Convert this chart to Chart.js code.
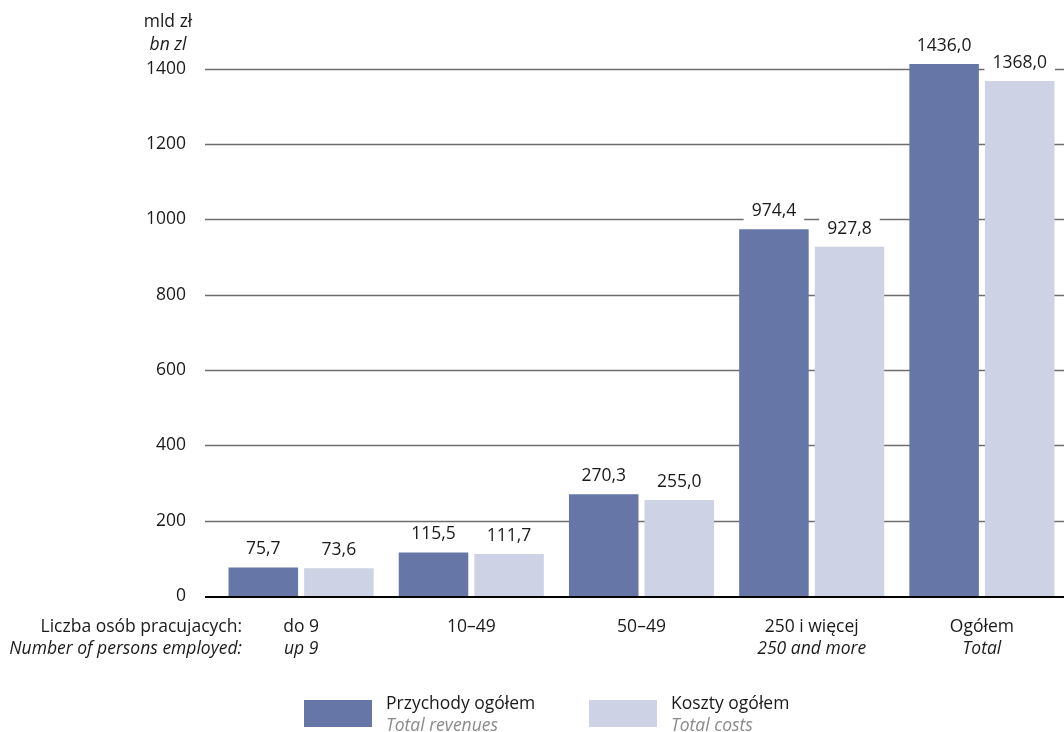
<!DOCTYPE html>
<html lang="pl">
<head>
<meta charset="utf-8">
<title>Przychody i koszty</title>
<script src="https://cdn.jsdelivr.net/npm/chart.js@4"></script>
<style>
    html, body { margin: 0; padding: 0; background: #fff; overflow: hidden; }
    #wrap { position: relative; width: 1067px; height: 732px; }
</style>
</head>
<body>
<div id="wrap"><canvas id="chart"></canvas></div>
<script>
// Dane
var categories = ['do 9', '10–49', '50–49', '250 i więcej', 'Ogółem'];
var categoriesEn = ['up 9', '', '', '250 and more', 'Total'];
var revenues = [75.7, 115.5, 270.3, 974.4, 1436.0];
var costs = [73.6, 111.7, 255.0, 927.8, 1368.0];
var yTicks = [0, 200, 400, 600, 800, 1000, 1200, 1400];
var seriesNames = ['Przychody ogółem', 'Koszty ogółem'];
var seriesNamesEn = ['Total revenues', 'Total costs'];
var unitLabel = ['mld zł', 'bn zl'];
var axisCaption = ['Liczba osób pracujacych:', 'Number of persons employed:'];

var FONT = '"Open Sans", "Liberation Sans", sans-serif';
var SIZE = 17.5;
var colRev = '#6576a7';
var colCost = '#cdd3e5';
var txt = '#1a1a1a';

function fmt(v) {
    return v.toFixed(1).replace('.', ',');
}

function font(size, italic) {
    return (italic ? 'italic ' : '') + size + 'px ' + FONT;
}

// Etykiety, siatka, legenda
var extras = {
    id: 'extras',
    beforeDatasetsDraw: function (chart) {
        var ctx = chart.ctx, area = chart.chartArea, y = chart.scales.y;
        ctx.save();
        // linie siatki
        ctx.strokeStyle = '#6e6e6e';
        ctx.lineWidth = 1.3;
        yTicks.forEach(function (v) {
            if (v === 0) return;
            var py = Math.round(y.getPixelForValue(v)) + 0.5;
            ctx.beginPath();
            ctx.moveTo(area.left - 11, py);
            ctx.lineTo(area.right, py);
            ctx.stroke();
        });
        // białe tło pod wartościami
        ctx.font = font(SIZE);
        ctx.fillStyle = '#fff';
        chart.data.datasets.forEach(function (ds, i) {
            chart.getDatasetMeta(i).data.forEach(function (bar, j) {
                var top = Math.max(bar.y, area.top);
                var w = ctx.measureText(fmt(ds.data[j])).width + 16;
                ctx.fillRect(bar.x - w / 2, top - 29, w, 22);
            });
        });
        ctx.restore();
    },
    afterDatasetsDraw: function (chart) {
        var ctx = chart.ctx, area = chart.chartArea, x = chart.scales.x, y = chart.scales.y;
        ctx.save();
        // oś zero
        ctx.strokeStyle = '#000';
        ctx.lineWidth = 2;
        var y0 = y.getPixelForValue(0) + 1;
        ctx.beginPath();
        ctx.moveTo(area.left - 11, y0);
        ctx.lineTo(area.right, y0);
        ctx.stroke();

        ctx.textBaseline = 'middle';
        ctx.textAlign = 'center';
        ctx.fillStyle = txt;
        ctx.font = font(SIZE);
        // wartości nad słupkami
        chart.data.datasets.forEach(function (ds, i) {
            chart.getDatasetMeta(i).data.forEach(function (bar, j) {
                var top = Math.max(bar.y, area.top);
                ctx.fillText(fmt(ds.data[j]), bar.x, top - 18);
            });
        });

        // kategorie
        categories.forEach(function (c, i) {
            var px = x.getPixelForValue(i);
            ctx.font = font(SIZE);
            ctx.fillText(c, px, 627);
            if (categoriesEn[i]) {
                ctx.font = font(SIZE, true);
                ctx.fillText(categoriesEn[i], px, 649);
            }
        });

        // jednostka
        ctx.font = font(SIZE);
        ctx.fillText(unitLabel[0], 168, 22);
        ctx.font = font(SIZE, true);
        ctx.fillText(unitLabel[1], 168, 45);

        // podpis osi
        ctx.textAlign = 'right';
        ctx.font = font(SIZE);
        ctx.fillText(axisCaption[0], 242, 627);
        ctx.font = font(SIZE, true);
        ctx.fillText(axisCaption[1], 242, 649);

        // legenda
        var legendX = [304, 589];
        var legendCol = [colRev, colCost];
        ctx.textAlign = 'left';
        seriesNames.forEach(function (name, i) {
            ctx.fillStyle = legendCol[i];
            ctx.fillRect(legendX[i], 700, 68, 27);
            ctx.fillStyle = txt;
            ctx.font = font(SIZE);
            ctx.fillText(name, legendX[i] + 82, 704);
            ctx.fillStyle = '#8a8a8a';
            ctx.font = font(SIZE, true);
            ctx.fillText(seriesNamesEn[i], legendX[i] + 82, 726);
        });
        ctx.restore();
    }
};

var ctx = document.getElementById('chart').getContext('2d');
var chart = new Chart(ctx, {
    type: 'bar',
    data: {
        labels: categories,
        datasets: [{
            label: seriesNames[0],
            data: revenues,
            backgroundColor: colRev
        }, {
            label: seriesNames[1],
            data: costs,
            backgroundColor: colCost
        }]
    },
    options: {
        responsive: true,
        maintainAspectRatio: false,
        animation: false,
        categoryPercentage: 0.888,
        barPercentage: 0.92,
        layout: { padding: { top: 64, bottom: 136, left: 0, right: 0 } },
        plugins: {
            legend: { display: false },
            tooltip: { enabled: false }
        },
        scales: {
            x: { display: false },
            y: {
                min: 0,
                max: 1413,
                afterBuildTicks: function (s) {
                    s.ticks = yTicks.map(function (v) { return { value: v }; });
                },
                afterFit: function (s) { s.width = 216; },
                grid: { display: false, drawTicks: false },
                border: { display: false },
                ticks: {
                    padding: 30,
                    color: txt,
                    font: { family: FONT, size: SIZE },
                    callback: function (v) { return String(v); }
                }
            }
        }
    },
    plugins: [extras]
});
</script>
</body>
</html>
